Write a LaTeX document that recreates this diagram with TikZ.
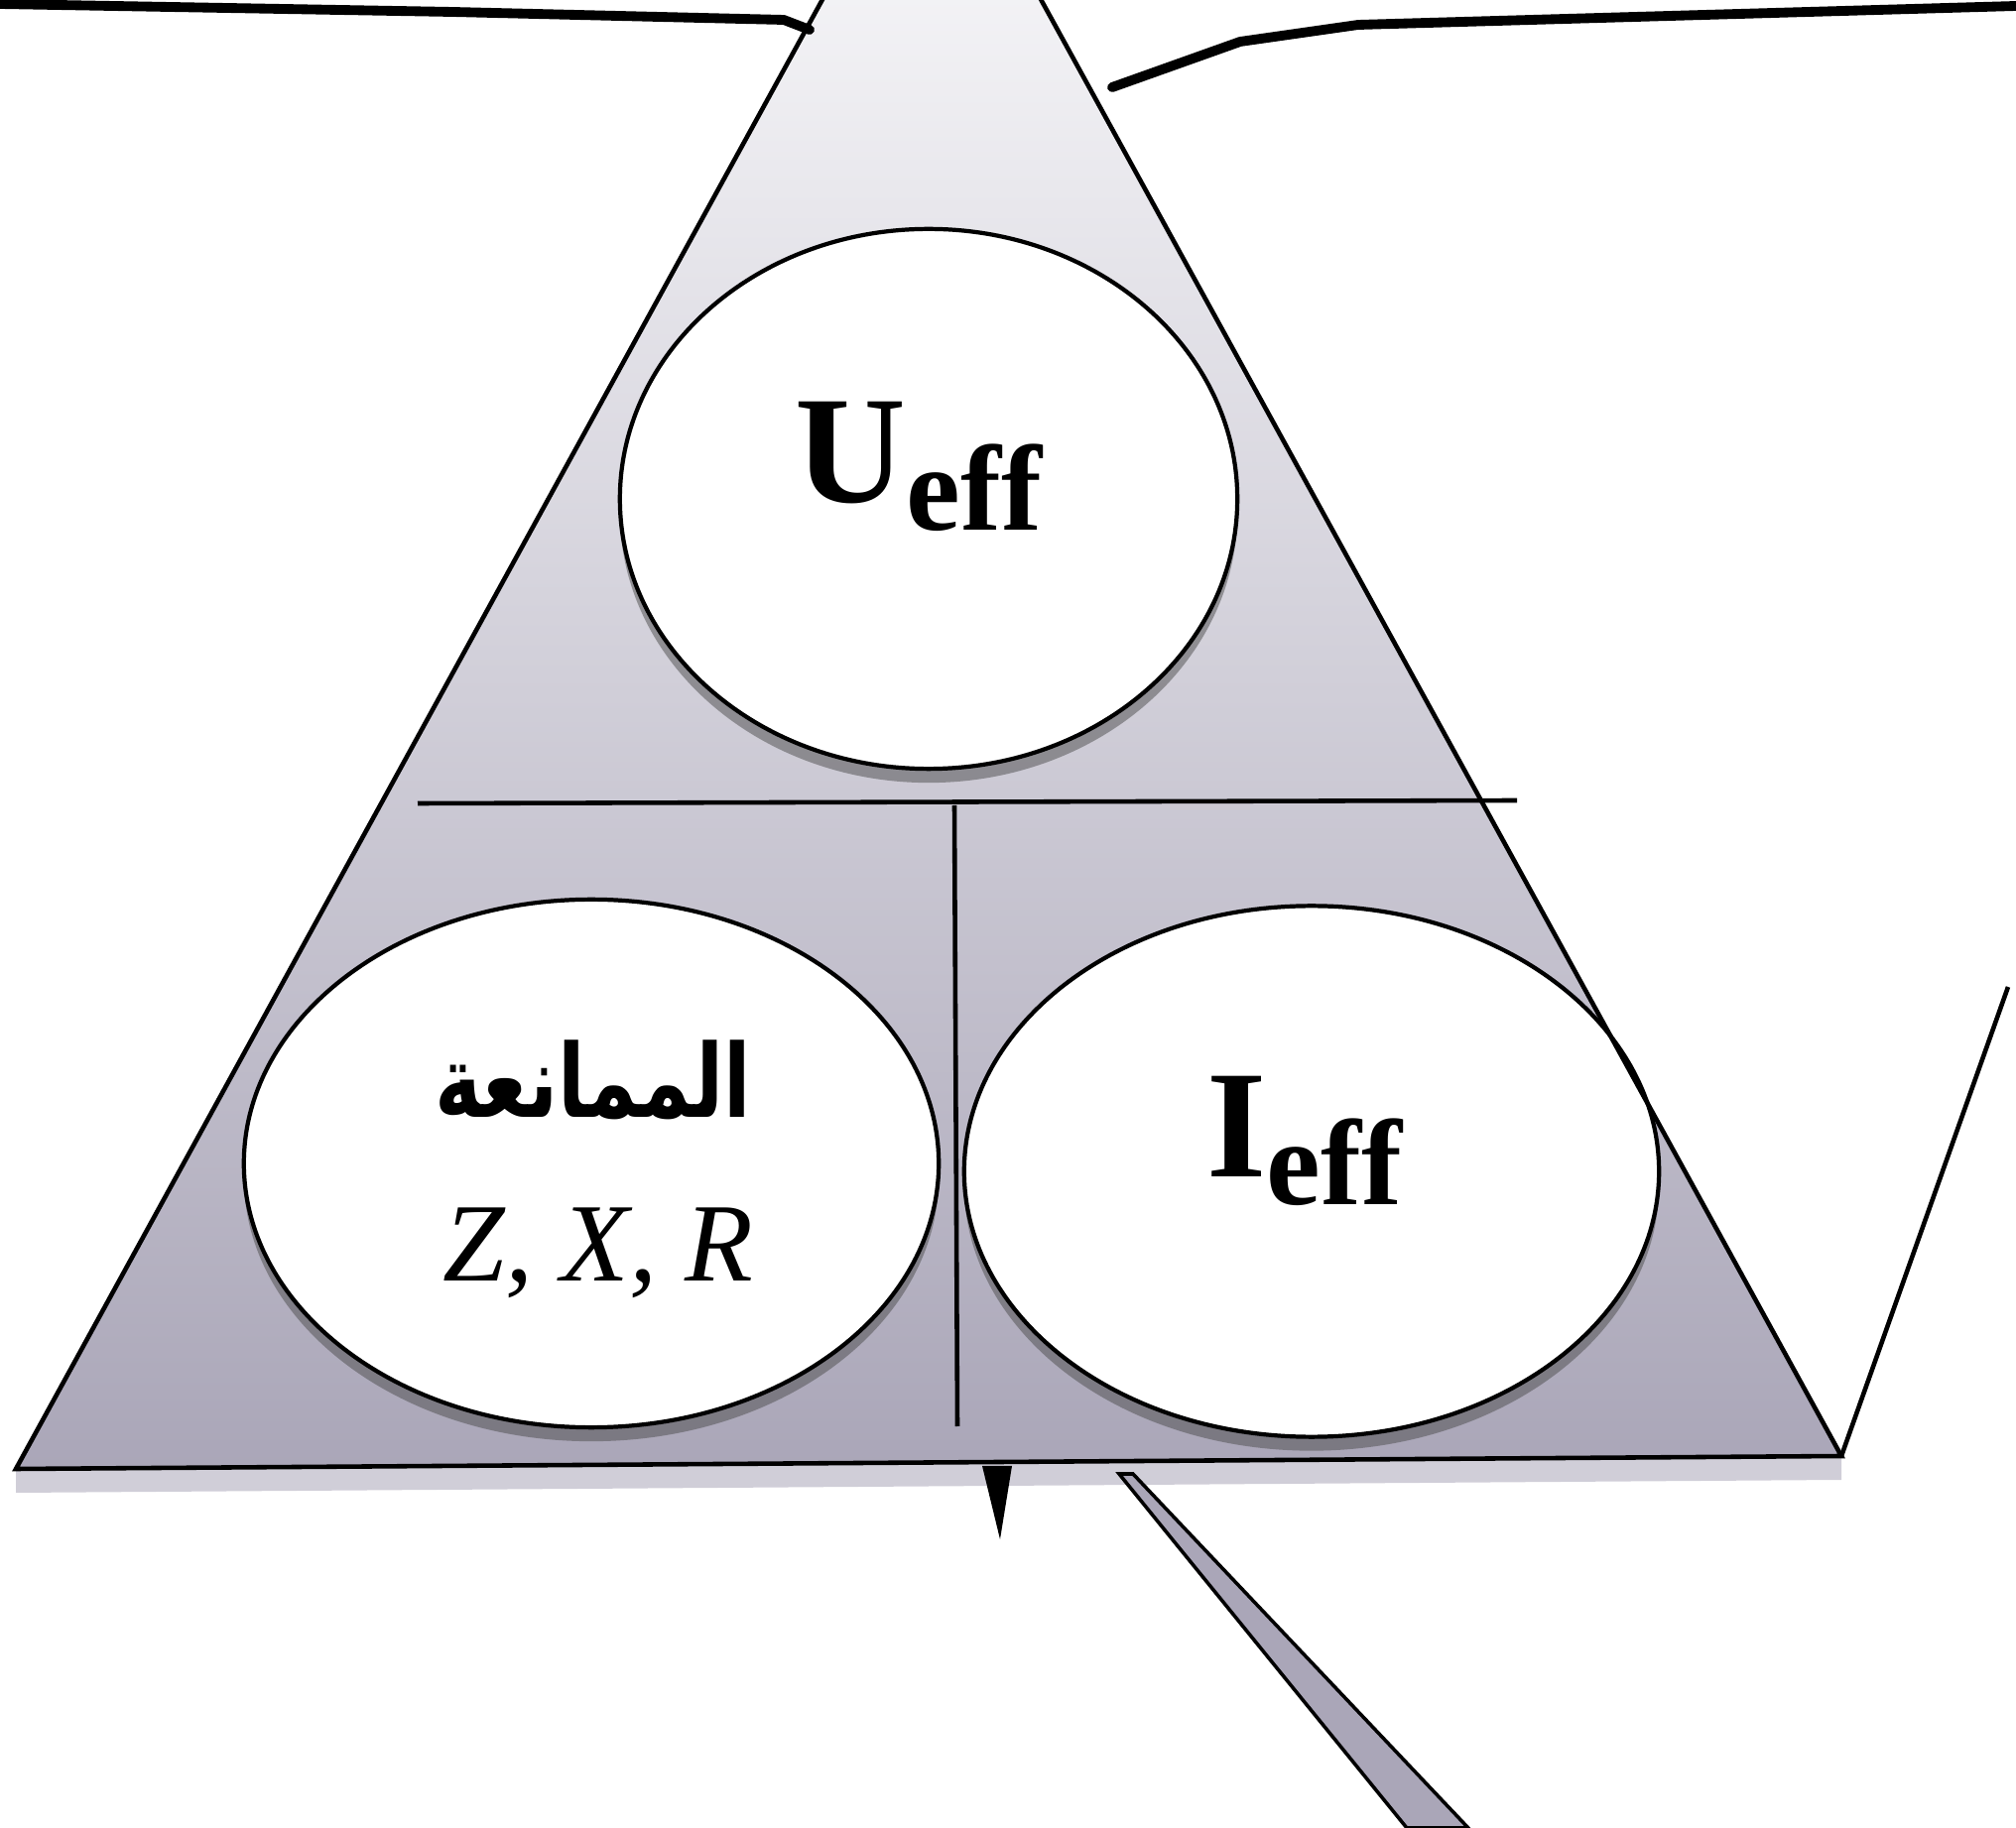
\documentclass[tikz,border=0pt]{standalone}
\usepackage{fontspec}
\setmainfont{Liberation Serif}
\newfontfamily\arabicfont[Script=Arabic]{DejaVu Sans}
\TeXXeTstate=1
\usetikzlibrary{shapes.geometric,shadows}
\definecolor{scanlight}{RGB}{252,252,253}
\definecolor{scanmid}{RGB}{228,227,232}
\definecolor{scandark}{RGB}{170,166,184}

\begin{document}
\begin{tikzpicture}[
    x=0.01cm, y=-0.01cm,
    disc/.style={ellipse, draw, line width=1.2pt, fill=white, inner sep=0pt,
        drop shadow={shadow xshift=0pt, shadow yshift=-0.14cm, opacity=0.5, fill=black!70}},
    term/.style={inner sep=0pt, font=\bfseries},
    sym/.style={inner sep=0pt, font=\itshape},
    rim/.style={line width=1.3pt, line join=miter},
    stroke/.style={line width=2.8pt, line cap=round, line join=round}
]
    \useasboundingbox (0,0) rectangle (2032,1843);
    \clip (0,0) rectangle (2032,1843);

    \coordinate (apex) at (939,-201);
    \coordinate (bl) at (16,1481);
    \coordinate (br) at (1856,1468);
    \coordinate (rt) at (2024,995);

    \fill[scandark, opacity=0.55] (bl) -- (br) -- (1856,1492) -- (16,1505) -- cycle;
    \shade[top color=scanlight, middle color=scanmid, bottom color=scandark] (apex) -- (bl) -- (br) -- cycle;

    \coordinate (hl) at (421,810);
    \coordinate (hr) at (1529,807);
    \coordinate (vt) at (962,812);
    \coordinate (vb) at (965,1438);
    \draw[rim] (hl) -- (hr);
    \draw[rim] (vt) -- (vb);

    \node[disc, minimum width=6.22cm, minimum height=5.44cm] (udisc) at (936,503) {};
    \node[disc, minimum width=7cm, minimum height=5.32cm] (zdisc) at (596,1173) {};
    \node[disc, minimum width=7cm, minimum height=5.35cm] (idisc) at (1322,1181) {};

    \draw[rim] (apex) -- (bl) -- (br) -- cycle;
    \draw[rim] (br) -- (rt);

    \node[term] (ueff) at (926,470) {\fontsize{44}{48}\selectfont U\raisebox{-0.28cm}{\fontsize{35}{40}\selectfont eff}};
    \node[term] (ieff) at (1315,1150) {\fontsize{44}{48}\selectfont I\raisebox{-0.28cm}{\fontsize{35}{40}\selectfont eff}};
    \node[term] (mum) at (598,1089) {\scalebox{0.76}[0.97]{\arabicfont\fontsize{30}{34}\selectfont\beginR الممانعة\endR}};
    \node[sym] (zxr) at (603,1263) {\fontsize{32}{36}\selectfont Z, X, R};

    \draw[stroke] (0,4) -- (456,12) -- (790,20) -- (816,30);
    \draw[stroke] (1121,88) -- (1250,42) -- (1369,25) -- (2032,6);

    \coordinate (tipl) at (990,1478);
    \coordinate (tipr) at (1020,1478);
    \coordinate (tip) at (1008,1552);
    \fill (tipl) -- (tipr) -- (tip) -- cycle;

    \coordinate (bandtl) at (1128,1486);
    \coordinate (bandtr) at (1142,1486);
    \coordinate (bandbr) at (1480,1843);
    \coordinate (bandbl) at (1418,1843);
    \filldraw[fill=scandark, line width=1pt] (bandtl) -- (bandtr) -- (bandbr) -- (bandbl) -- cycle;
\end{tikzpicture}
\end{document}
